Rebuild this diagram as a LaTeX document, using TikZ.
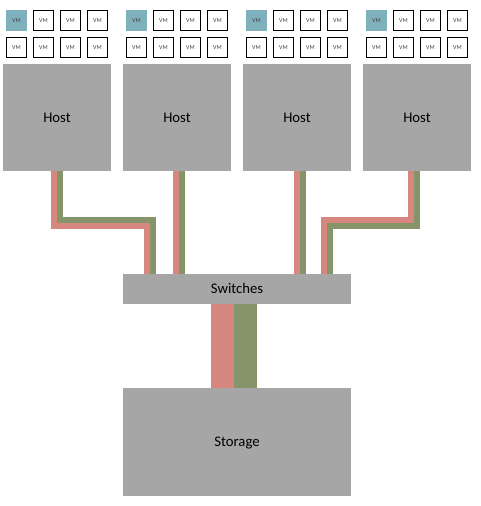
\documentclass[tikz,border=0pt]{standalone}
\usepackage{fontspec}
\setmainfont{Carlito}
\usetikzlibrary{positioning}
\definecolor{boxgray}{HTML}{A6A6A6}
\definecolor{vmteal}{HTML}{7FB1BD}
\definecolor{cablered}{HTML}{D6877F}
\definecolor{cablegreen}{HTML}{86946A}

\begin{document}
\begin{tikzpicture}[x=1pt, y=-1pt,
		nodes={inner sep=0pt, outer sep=0pt, anchor=north west},
		host/.style={fill=boxgray, minimum width=108pt, minimum height=107pt, text height=9.5pt, text depth=0pt, font=\fontsize{14.7}{16}\selectfont},
		vm/.style={draw=black, line width=0.8pt, fill=white, minimum size=20pt, text height=3.8pt, text depth=0pt, font=\fontsize{6}{6}\selectfont, text=black!75},
		vmon/.style={vm, draw=vmteal, fill=vmteal},
		redcable/.style={draw=cablered, line width=6pt},
		greencable/.style={draw=cablegreen, line width=6pt}]
		\useasboundingbox (0,0) rectangle (480,506);
		% hosts, switches, storage
		\node (h1) [host] at (3,64) {Host};
		\node (h2) [host, right=12pt of h1] {Host};
		\node (h3) [host, right=12pt of h2] {Host};
		\node (h4) [host, right=12pt of h3] {Host};
		\node (sw) [host, minimum width=228pt, minimum height=30pt] at (123,274) {Switches};
		\node (st) [host, minimum width=228pt, minimum height=108pt] at (123,388) {Storage};
		% vms on each host
		\foreach \h in {0,...,3} {
			\foreach \c in {0,...,3} {
				\ifnum\c=0
					\node (vm\h\c a) [vmon] at (6.5+120*\h+27*\c,10.5) {VM};
				\else
					\node (vm\h\c a) [vm] at (6.5+120*\h+27*\c,10.5) {VM};
				\fi
				\node (vm\h\c b) [vm] at (6.5+120*\h+27*\c,37.5) {VM};
			}
		}
		% host to switches
		\draw[redcable] ([xshift=-3pt]h1.south) -- ++(0,55) -| ([xshift=-90pt]sw.north);
		\draw[greencable] ([xshift=3pt]h1.south) -- ++(0,49) -| ([xshift=-84pt]sw.north);
		\draw[redcable] ([xshift=-1pt]h2.south) -- ([xshift=-61pt]sw.north);
		\draw[greencable] ([xshift=5pt]h2.south) -- ([xshift=-55pt]sw.north);
		\draw[redcable] (h3.south) -- ([xshift=60pt]sw.north);
		\draw[greencable] ([xshift=6pt]h3.south) -- ([xshift=66pt]sw.north);
		\draw[redcable] ([xshift=-6pt]h4.south) -- ++(0,49) -| ([xshift=87pt]sw.north);
		\draw[greencable] (h4.south) -- ++(0,55) -| ([xshift=93pt]sw.north);
		% switches to storage
		\draw[redcable, line width=23pt] ([xshift=-14.5pt]sw.south) -- ([xshift=-14.5pt]st.north);
		\draw[greencable, line width=23pt] ([xshift=8.5pt]sw.south) -- ([xshift=8.5pt]st.north);
\end{tikzpicture}
\end{document}
